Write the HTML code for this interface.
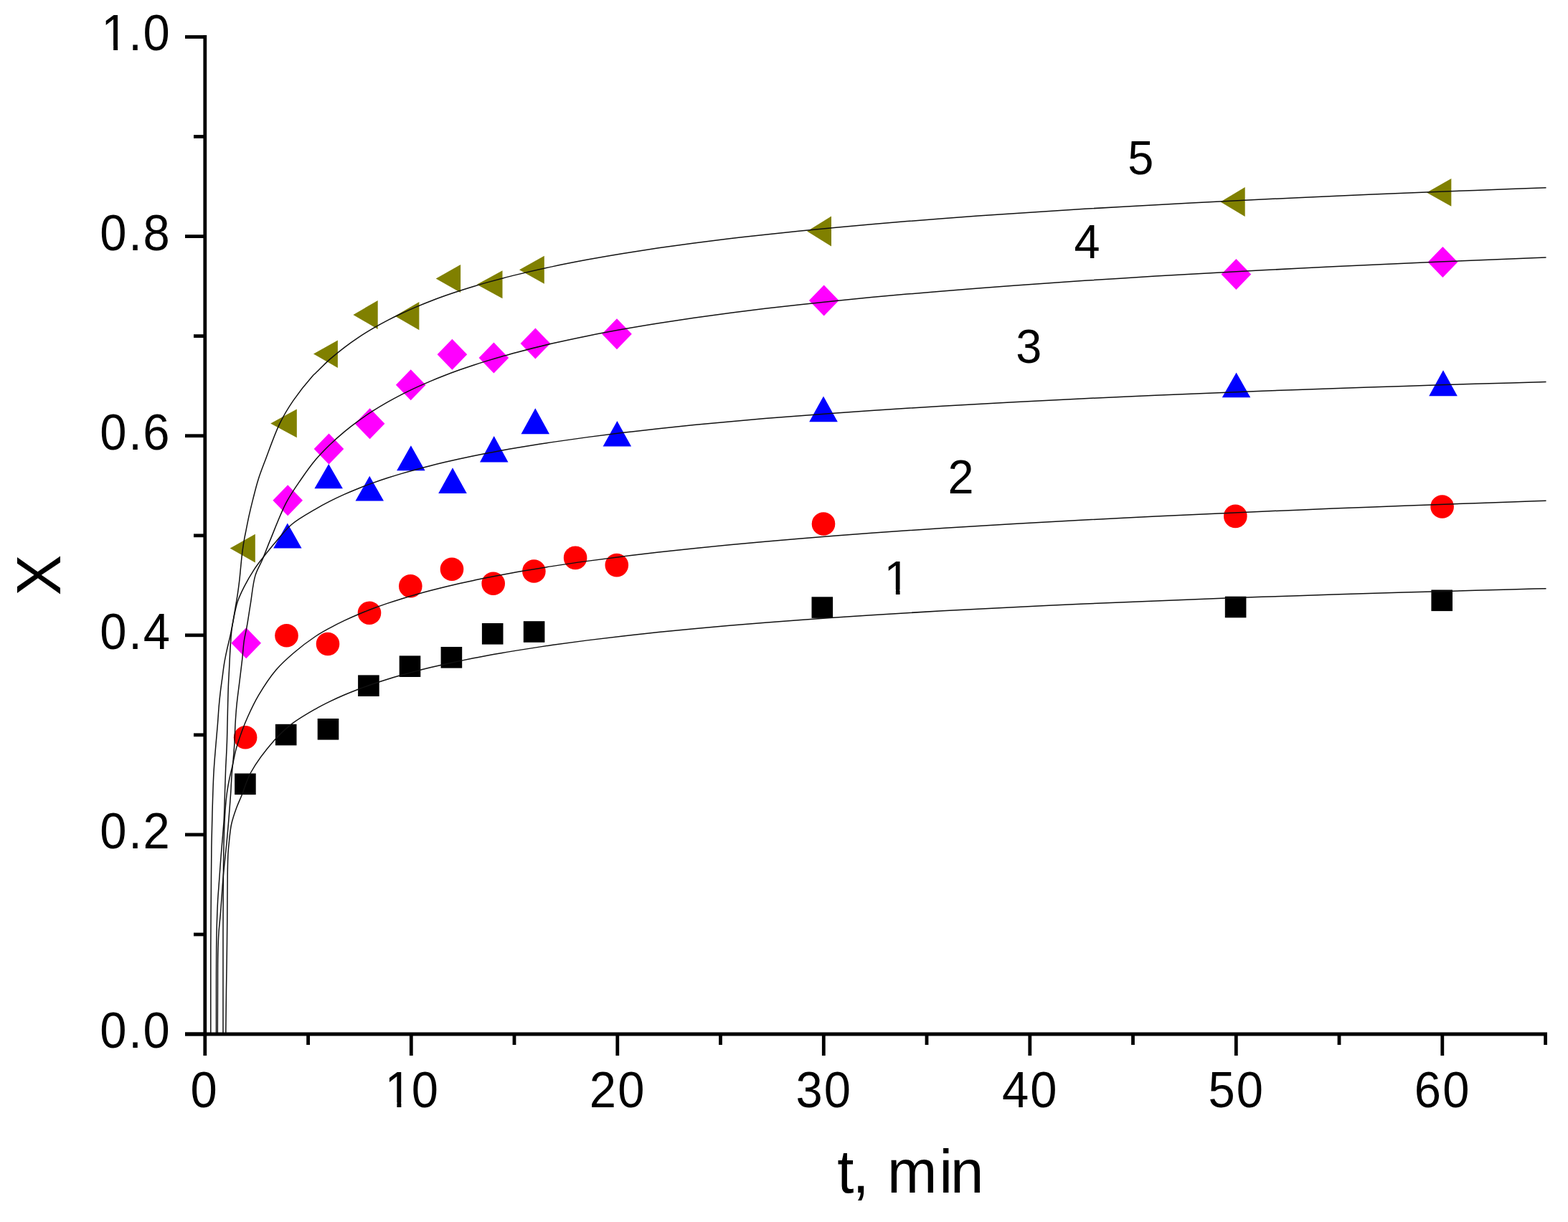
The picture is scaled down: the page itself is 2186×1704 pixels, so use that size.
<!DOCTYPE html>
<html><head><meta charset="utf-8"><title>X vs t</title><style>html,body{margin:0;padding:0;background:#fff;overflow:hidden}svg{display:block}</style></head><body>
<svg width="2186" height="1704" viewBox="0 0 2186 1704">
<rect width="2186" height="1704" fill="#fff"/>
<g fill="#000">
<rect x="327.1" y="1078.5" width="29.6" height="29.6"/>
<rect x="383.9" y="1009.8" width="29.6" height="29.6"/>
<rect x="442.7" y="1002.0" width="29.6" height="29.6"/>
<rect x="499.1" y="941.4" width="29.6" height="29.6"/>
<rect x="556.7" y="914.4" width="29.6" height="29.6"/>
<rect x="614.6" y="902.0" width="29.6" height="29.6"/>
<rect x="671.9" y="869.0" width="29.6" height="29.6"/>
<rect x="729.8" y="866.2" width="29.6" height="29.6"/>
<rect x="1131.5" y="832.3" width="29.6" height="29.6"/>
<rect x="1707.8" y="831.7" width="29.6" height="29.6"/>
<rect x="1995.4" y="822.5" width="29.6" height="29.6"/>
</g>
<g fill="#ff0000">
<circle cx="342.1" cy="1028.3" r="16.3"/>
<circle cx="399.5" cy="886.3" r="16.3"/>
<circle cx="457.0" cy="898.0" r="16.3"/>
<circle cx="515.0" cy="854.8" r="16.3"/>
<circle cx="572.3" cy="817.3" r="16.3"/>
<circle cx="630.0" cy="793.8" r="16.3"/>
<circle cx="687.7" cy="813.8" r="16.3"/>
<circle cx="744.4" cy="796.5" r="16.3"/>
<circle cx="802.1" cy="777.9" r="16.3"/>
<circle cx="859.8" cy="788.1" r="16.3"/>
<circle cx="1148.0" cy="730.5" r="16.3"/>
<circle cx="1722.3" cy="719.9" r="16.3"/>
<circle cx="2010.6" cy="706.5" r="16.3"/>
</g>
<g fill="#0000ff">
<path d="M400.8,729.5 L420.6,764.6 L381.1,764.6 Z"/>
<path d="M458.2,647.0 L477.9,681.3 L438.4,681.3 Z"/>
<path d="M515.2,663.8 L535.0,698.5 L495.5,698.5 Z"/>
<path d="M572.9,621.2 L592.6,656.2 L553.1,656.2 Z"/>
<path d="M631.0,652.3 L650.8,687.9 L611.2,687.9 Z"/>
<path d="M688.7,608.1 L708.5,644.6 L669.0,644.6 Z"/>
<path d="M746.3,569.2 L766.0,605.2 L726.5,605.2 Z"/>
<path d="M860.4,586.9 L880.1,622.5 L840.6,622.5 Z"/>
<path d="M1148.0,552.6 L1167.8,588.3 L1128.2,588.3 Z"/>
<path d="M1723.6,519.5 L1743.3,554.3 L1703.8,554.3 Z"/>
<path d="M2012.0,516.3 L2031.8,552.2 L1992.2,552.2 Z"/>
</g>
<g fill="#ff00ff">
<path d="M343.2,875.3 L364.0,896.8 L343.2,918.3 L322.4,896.8 Z"/>
<path d="M401.2,676.3 L422.0,697.8 L401.2,719.3 L380.4,697.8 Z"/>
<path d="M458.5,604.5 L479.3,626.0 L458.5,647.5 L437.7,626.0 Z"/>
<path d="M515.6,569.3 L536.4,590.8 L515.6,612.3 L494.8,590.8 Z"/>
<path d="M572.7,515.3 L593.5,536.8 L572.7,558.3 L551.9,536.8 Z"/>
<path d="M630.4,472.8 L651.2,494.3 L630.4,515.8 L609.6,494.3 Z"/>
<path d="M688.4,477.5 L709.2,499.0 L688.4,520.5 L667.6,499.0 Z"/>
<path d="M746.4,457.5 L767.2,479.0 L746.4,500.5 L725.6,479.0 Z"/>
<path d="M860.0,444.3 L880.8,465.8 L860.0,487.3 L839.2,465.8 Z"/>
<path d="M1148.7,397.6 L1169.5,419.1 L1148.7,440.6 L1127.9,419.1 Z"/>
<path d="M1723.4,361.1 L1744.2,382.6 L1723.4,404.1 L1702.6,382.6 Z"/>
<path d="M2011.4,343.9 L2032.2,365.4 L2011.4,386.9 L1990.6,365.4 Z"/>
</g>
<g fill="#808000">
<path d="M320.6,764.6 L355.8,744.7 L355.8,784.5 Z"/>
<path d="M377.2,590.5 L413.8,570.6 L413.8,610.3 Z"/>
<path d="M437.0,493.6 L470.9,474.4 L470.9,512.9 Z"/>
<path d="M492.4,438.9 L526.7,419.0 L526.7,458.9 Z"/>
<path d="M550.7,440.7 L584.4,421.1 L584.4,460.3 Z"/>
<path d="M607.7,388.5 L642.1,368.9 L642.1,408.1 Z"/>
<path d="M664.8,396.8 L700.5,377.2 L700.5,416.3 Z"/>
<path d="M724.0,376.2 L758.8,356.8 L758.8,395.7 Z"/>
<path d="M1125.2,322.6 L1159.0,301.6 L1159.0,343.5 Z"/>
<path d="M1701.5,281.5 L1735.7,261.0 L1735.7,302.0 Z"/>
<path d="M1989.0,268.4 L2023.3,249.0 L2023.3,287.8 Z"/>
</g>
<g fill="none" stroke="#111" stroke-width="1.5" stroke-linejoin="round">
<path d="M314.80,1442.00 C315.03,1421.33 315.23,1399.56 315.50,1380.00 C315.74,1362.44 316.08,1346.67 316.30,1330.00 C316.52,1313.33 316.65,1297.43 316.80,1280.00 C316.96,1260.91 316.92,1236.57 317.20,1220.00 C317.40,1208.28 317.50,1198.72 318.00,1190.00 C318.39,1183.23 318.89,1178.36 319.60,1172.00 C320.41,1164.79 321.04,1156.51 322.70,1149.00 C324.35,1141.52 327.00,1133.91 329.50,1127.00 C331.80,1120.64 334.20,1115.87 337.00,1109.00 C340.73,1099.87 343.62,1088.16 349.80,1077.00 C357.67,1062.80 372.02,1044.05 382.70,1032.00 C390.93,1022.71 397.84,1016.39 406.90,1009.40 C416.75,1001.80 430.25,994.13 440.00,988.53 C447.40,984.29 453.29,981.40 460.00,978.13 C466.62,974.91 473.30,971.91 480.00,969.04 C486.64,966.20 493.31,963.54 500.00,960.99 C506.64,958.45 513.32,956.07 520.00,953.78 C526.65,951.49 533.32,949.34 540.00,947.26 C546.65,945.18 553.32,943.22 560.00,941.32 C566.66,939.42 573.32,937.62 580.00,935.87 C586.66,934.13 593.33,932.47 600.00,930.85 C606.66,929.24 613.33,927.70 620.00,926.20 C626.66,924.71 633.33,923.27 640.00,921.88 C646.66,920.48 653.33,919.14 660.00,917.83 C666.66,916.53 673.33,915.27 680.00,914.04 C686.66,912.82 693.33,911.63 700.00,910.48 C706.66,909.32 711.84,908.43 720.00,907.12 C732.82,905.06 752.99,901.93 769.50,899.55 C785.99,897.18 802.49,894.98 819.00,892.88 C835.49,890.78 851.99,888.81 868.50,886.93 C884.99,885.04 901.50,883.28 918.00,881.57 C934.50,879.87 951.00,878.26 967.50,876.72 C984.00,875.17 1000.50,873.70 1017.00,872.28 C1033.50,870.86 1050.00,869.51 1066.50,868.21 C1083.00,866.90 1099.50,865.66 1116.00,864.45 C1132.50,863.24 1149.00,862.08 1165.50,860.96 C1182.00,859.84 1198.50,858.77 1215.00,857.72 C1231.50,856.67 1248.00,855.67 1264.50,854.69 C1281.00,853.71 1297.50,852.77 1314.00,851.85 C1330.50,850.93 1347.00,850.04 1363.50,849.18 C1380.00,848.32 1396.50,847.48 1413.00,846.67 C1429.50,845.85 1446.00,845.06 1462.50,844.29 C1479.00,843.52 1495.50,842.77 1512.00,842.04 C1528.50,841.31 1545.00,840.60 1561.50,839.91 C1578.00,839.22 1594.50,838.54 1611.00,837.89 C1627.50,837.23 1644.00,836.59 1660.50,835.96 C1677.00,835.33 1693.50,834.72 1710.00,834.12 C1726.50,833.52 1743.00,832.94 1759.50,832.36 C1776.00,831.79 1792.50,831.23 1809.00,830.68 C1825.50,830.14 1842.00,829.60 1858.50,829.08 C1875.00,828.55 1891.50,828.04 1908.00,827.54 C1924.50,827.03 1941.00,826.54 1957.50,826.06 C1974.00,825.57 1990.50,825.10 2007.00,824.64 C2023.50,824.17 2040.00,823.72 2056.50,823.27 C2073.00,822.82 2089.50,822.38 2106.00,821.95 C2122.50,821.52 2139.00,821.11 2155.50,820.69"/>
<path d="M311.00,1442.00 C311.00,1394.67 310.93,1335.25 311.00,1300.00 C311.04,1279.08 311.10,1266.67 311.20,1250.00 C311.30,1233.33 311.36,1215.74 311.60,1200.00 C311.81,1185.92 312.05,1172.37 312.50,1160.00 C312.89,1149.28 313.29,1139.54 314.00,1130.00 C314.65,1121.28 315.42,1112.85 316.50,1105.00 C317.47,1097.94 318.65,1091.58 320.00,1085.00 C321.33,1078.52 323.03,1072.33 324.50,1065.80 C326.03,1059.01 327.02,1052.28 329.00,1045.00 C331.25,1036.71 334.69,1026.77 337.60,1018.80 C340.10,1011.97 342.05,1006.96 345.20,1000.00 C349.31,990.92 354.54,979.59 360.70,969.20 C367.56,957.62 376.29,944.24 385.00,934.00 C392.84,924.79 401.05,917.65 410.00,910.00 C419.33,902.03 430.84,893.37 440.00,887.25 C447.18,882.45 453.28,879.21 460.00,875.55 C466.61,871.94 473.29,868.60 480.00,865.41 C486.63,862.26 493.30,859.32 500.00,856.49 C506.64,853.70 513.31,851.07 520.00,848.55 C526.64,846.05 533.32,843.68 540.00,841.41 C546.65,839.14 553.32,837.00 560.00,834.92 C566.65,832.86 573.32,830.90 580.00,829.00 C586.66,827.10 593.32,825.29 600.00,823.54 C606.66,821.80 613.33,820.12 620.00,818.50 C626.66,816.88 633.33,815.32 640.00,813.81 C646.66,812.30 653.33,810.84 660.00,809.43 C666.66,808.02 673.33,806.65 680.00,805.33 C686.66,804.00 693.33,802.72 700.00,801.47 C706.66,800.22 711.84,799.25 720.00,797.83 C732.82,795.60 752.99,792.20 769.50,789.63 C785.99,787.05 802.49,784.66 819.00,782.37 C835.49,780.08 851.99,777.94 868.50,775.88 C884.99,773.82 901.50,771.88 918.00,770.01 C934.50,768.14 951.00,766.37 967.50,764.65 C984.00,762.94 1000.50,761.31 1017.00,759.74 C1033.50,758.16 1050.00,756.65 1066.50,755.19 C1083.00,753.73 1099.50,752.33 1116.00,750.97 C1132.50,749.61 1149.00,748.30 1165.50,747.03 C1182.00,745.76 1198.50,744.53 1215.00,743.34 C1231.50,742.14 1248.00,740.99 1264.50,739.86 C1281.00,738.74 1297.50,737.65 1314.00,736.58 C1330.50,735.52 1347.00,734.48 1363.50,733.47 C1380.00,732.47 1396.50,731.48 1413.00,730.52 C1429.50,729.57 1446.00,728.63 1462.50,727.72 C1479.00,726.80 1495.50,725.91 1512.00,725.04 C1528.50,724.16 1545.00,723.31 1561.50,722.48 C1578.00,721.64 1594.50,720.82 1611.00,720.02 C1627.50,719.22 1644.00,718.44 1660.50,717.67 C1677.00,716.90 1693.50,716.15 1710.00,715.40 C1726.50,714.66 1743.00,713.94 1759.50,713.23 C1776.00,712.51 1792.50,711.81 1809.00,711.13 C1825.50,710.44 1842.00,709.76 1858.50,709.10 C1875.00,708.44 1891.50,707.78 1908.00,707.14 C1924.50,706.50 1941.00,705.87 1957.50,705.25 C1974.00,704.62 1990.50,704.01 2007.00,703.41 C2023.50,702.81 2040.00,702.21 2056.50,701.63 C2073.00,701.04 2089.50,700.47 2106.00,699.90 C2122.50,699.33 2139.00,698.78 2155.50,698.22"/>
<path d="M293.80,1442.00 C293.80,1401.33 293.67,1355.05 293.80,1320.00 C293.89,1293.45 294.12,1273.33 294.30,1250.00 C294.48,1226.67 294.54,1201.82 294.90,1180.00 C295.21,1160.83 295.67,1143.56 296.20,1126.00 C296.71,1109.27 297.15,1092.18 298.00,1077.00 C298.74,1063.79 299.85,1051.68 300.80,1040.00 C301.65,1029.47 302.63,1019.64 303.40,1010.00 C304.12,1001.03 304.59,992.03 305.30,984.00 C305.91,977.06 306.53,971.06 307.30,964.60 C308.07,958.13 309.03,951.67 309.90,945.20 C310.77,938.73 311.44,932.25 312.50,925.80 C313.57,919.32 314.90,912.85 316.30,906.40 C317.70,899.92 319.50,893.48 320.90,887.00 C322.30,880.55 323.20,874.67 324.70,867.60 C326.52,859.00 328.35,847.72 331.20,839.10 C333.71,831.52 336.70,825.49 340.30,818.40 C344.33,810.47 349.98,800.81 354.50,793.90 C358.03,788.50 360.64,785.25 364.70,780.00 C370.24,772.82 377.97,763.15 385.00,755.00 C392.07,746.81 398.38,738.25 407.00,731.00 C416.46,723.04 430.28,715.58 440.00,709.82 C447.41,705.42 453.29,702.33 460.00,698.91 C466.62,695.53 473.30,692.39 480.00,689.38 C486.63,686.40 493.31,683.62 500.00,680.94 C506.64,678.29 513.31,675.79 520.00,673.39 C526.65,671.00 533.32,668.75 540.00,666.57 C546.65,664.40 553.32,662.34 560.00,660.36 C566.65,658.37 573.32,656.49 580.00,654.66 C586.66,652.84 593.33,651.10 600.00,649.41 C606.66,647.72 613.33,646.11 620.00,644.54 C626.66,642.98 633.33,641.47 640.00,640.01 C646.66,638.55 653.33,637.15 660.00,635.78 C666.66,634.41 673.33,633.10 680.00,631.81 C686.66,630.53 693.33,629.29 700.00,628.08 C706.66,626.87 711.84,625.93 720.00,624.56 C732.82,622.40 752.99,619.11 769.50,616.62 C785.99,614.14 802.49,611.83 819.00,609.62 C835.49,607.41 851.99,605.35 868.50,603.36 C884.99,601.38 901.50,599.52 918.00,597.73 C934.50,595.93 951.00,594.24 967.50,592.61 C984.00,590.97 1000.50,589.42 1017.00,587.92 C1033.50,586.43 1050.00,585.00 1066.50,583.62 C1083.00,582.24 1099.50,580.92 1116.00,579.64 C1132.50,578.36 1149.00,577.13 1165.50,575.94 C1182.00,574.75 1198.50,573.60 1215.00,572.49 C1231.50,571.38 1248.00,570.31 1264.50,569.27 C1281.00,568.22 1297.50,567.22 1314.00,566.24 C1330.50,565.26 1347.00,564.31 1363.50,563.39 C1380.00,562.46 1396.50,561.57 1413.00,560.70 C1429.50,559.82 1446.00,558.98 1462.50,558.15 C1479.00,557.32 1495.50,556.52 1512.00,555.74 C1528.50,554.95 1545.00,554.19 1561.50,553.44 C1578.00,552.70 1594.50,551.97 1611.00,551.26 C1627.50,550.55 1644.00,549.85 1660.50,549.18 C1677.00,548.50 1693.50,547.83 1710.00,547.19 C1726.50,546.54 1743.00,545.90 1759.50,545.28 C1776.00,544.66 1792.50,544.06 1809.00,543.46 C1825.50,542.86 1842.00,542.28 1858.50,541.71 C1875.00,541.14 1891.50,540.58 1908.00,540.03 C1924.50,539.48 1941.00,538.94 1957.50,538.42 C1974.00,537.89 1990.50,537.37 2007.00,536.86 C2023.50,536.35 2040.00,535.85 2056.50,535.36 C2073.00,534.87 2089.50,534.39 2106.00,533.92 C2122.50,533.45 2139.00,532.99 2155.50,532.52"/>
<path d="M303.30,1442.00 C303.37,1421.33 303.41,1399.56 303.50,1380.00 C303.58,1362.44 303.47,1344.55 303.80,1330.00 C304.06,1318.73 304.37,1309.54 305.00,1300.00 C305.58,1291.28 306.59,1283.50 307.30,1275.00 C308.03,1266.18 308.62,1257.08 309.30,1248.00 C309.99,1238.75 310.54,1229.64 311.40,1220.00 C312.32,1209.68 313.71,1197.79 314.70,1188.00 C315.54,1179.70 316.25,1173.18 317.00,1165.00 C317.86,1155.67 318.71,1144.95 319.50,1135.00 C320.28,1125.15 321.10,1114.86 321.70,1105.60 C322.24,1097.30 322.41,1089.84 323.00,1082.00 C323.58,1074.20 324.54,1066.50 325.20,1058.70 C325.87,1050.84 326.54,1043.01 327.00,1035.00 C327.48,1026.78 327.52,1018.41 328.00,1010.00 C328.49,1001.41 329.02,993.13 329.90,984.00 C330.89,973.78 332.50,962.39 333.80,951.60 C335.10,940.82 336.57,929.47 337.70,919.30 C338.71,910.22 339.12,901.46 340.30,893.50 C341.33,886.55 342.80,881.40 344.10,874.10 C345.78,864.69 347.45,852.98 349.30,841.70 C351.33,829.35 352.47,813.96 355.80,802.90 C358.46,794.07 362.66,787.92 366.00,780.00 C369.53,771.62 372.18,764.11 376.40,753.90 C382.47,739.20 391.19,715.73 399.30,700.40 C405.89,687.94 412.98,678.19 420.00,668.00 C426.56,658.48 433.08,649.30 440.00,641.06 C446.44,633.39 453.20,626.60 460.00,619.99 C466.54,613.64 473.23,607.71 480.00,602.07 C486.57,596.59 493.26,591.47 500.00,586.57 C506.59,581.78 513.27,577.29 520.00,572.98 C526.61,568.75 533.29,564.76 540.00,560.94 C546.62,557.16 553.30,553.59 560.00,550.15 C566.63,546.76 573.30,543.53 580.00,540.43 C586.64,537.35 593.31,534.42 600.00,531.59 C606.64,528.78 613.31,526.10 620.00,523.51 C626.65,520.93 633.32,518.47 640.00,516.08 C646.65,513.71 653.32,511.43 660.00,509.22 C666.65,507.02 673.32,504.91 680.00,502.86 C686.66,500.81 693.32,498.85 700.00,496.93 C706.66,495.03 711.83,493.54 720.00,491.40 C732.81,488.03 752.97,482.93 769.50,479.10 C785.97,475.29 802.48,471.79 819.00,468.45 C835.48,465.12 851.98,462.04 868.50,459.09 C884.99,456.14 901.49,453.40 918.00,450.77 C934.49,448.13 950.99,445.67 967.50,443.29 C983.99,440.92 1000.49,438.68 1017.00,436.53 C1033.49,434.37 1050.00,432.33 1066.50,430.36 C1083.00,428.39 1099.50,426.51 1116.00,424.70 C1132.50,422.88 1149.00,421.15 1165.50,419.47 C1182.00,417.79 1198.50,416.19 1215.00,414.62 C1231.50,413.06 1248.00,411.57 1264.50,410.11 C1281.00,408.65 1297.50,407.25 1314.00,405.88 C1330.50,404.52 1347.00,403.20 1363.50,401.92 C1380.00,400.63 1396.50,399.39 1413.00,398.18 C1429.50,396.97 1446.00,395.80 1462.50,394.65 C1479.00,393.51 1495.50,392.40 1512.00,391.31 C1528.50,390.22 1545.00,389.17 1561.50,388.13 C1578.00,387.10 1594.50,386.09 1611.00,385.11 C1627.50,384.12 1644.00,383.16 1660.50,382.22 C1677.00,381.28 1693.50,380.36 1710.00,379.46 C1726.50,378.56 1743.00,377.69 1759.50,376.82 C1776.00,375.96 1792.50,375.12 1809.00,374.29 C1825.50,373.46 1842.00,372.65 1858.50,371.85 C1875.00,371.06 1891.50,370.28 1908.00,369.51 C1924.50,368.74 1941.00,367.99 1957.50,367.25 C1974.00,366.51 1990.50,365.78 2007.00,365.07 C2023.50,364.35 2040.00,363.65 2056.50,362.96 C2073.00,362.27 2089.50,361.59 2106.00,360.92 C2122.50,360.25 2139.00,359.61 2155.50,358.95"/>
<path d="M301.50,1442.00 C301.50,1421.33 301.47,1400.50 301.50,1380.00 C301.53,1359.84 301.51,1336.57 301.70,1320.00 C301.84,1308.28 302.00,1300.31 302.30,1290.00 C302.62,1279.02 303.01,1266.78 303.60,1256.00 C304.14,1246.21 304.90,1237.72 305.60,1228.00 C306.36,1217.45 307.15,1205.83 308.00,1195.00 C308.82,1184.50 309.85,1173.57 310.60,1164.00 C311.25,1155.76 311.84,1149.53 312.30,1141.00 C312.87,1130.34 313.10,1116.92 313.50,1105.00 C313.90,1093.25 314.33,1078.45 314.70,1070.00 C314.91,1065.19 315.08,1063.16 315.30,1058.70 C315.62,1052.25 316.12,1043.01 316.40,1035.00 C316.69,1026.78 316.76,1019.84 317.00,1010.00 C317.35,995.82 317.76,972.42 318.30,958.10 C318.68,947.98 319.17,940.82 319.60,932.20 C320.03,923.59 320.37,915.01 320.90,906.40 C321.43,897.77 322.01,887.63 322.80,880.50 C323.36,875.45 323.95,872.33 324.70,867.60 C325.62,861.79 326.92,854.67 328.00,848.20 C329.08,841.73 330.23,835.27 331.20,828.80 C332.17,822.34 333.05,815.87 333.80,809.40 C334.55,802.94 335.06,796.38 335.70,790.00 C336.33,783.78 336.82,777.76 337.60,771.60 C338.39,765.36 339.39,758.61 340.40,752.80 C341.28,747.75 342.19,743.74 343.20,738.70 C344.37,732.88 345.55,726.50 347.00,719.90 C348.63,712.49 350.53,704.57 352.60,696.40 C354.88,687.41 357.24,677.54 360.20,668.20 C363.20,658.73 366.44,650.69 370.50,640.00 C375.92,625.75 383.04,604.85 390.10,590.40 C395.97,578.40 401.64,569.19 408.80,558.70 C416.52,547.38 429.82,531.08 435.20,525.00 C437.34,522.58 437.84,522.31 440.00,520.18 C444.37,515.89 453.21,506.96 460.00,500.92 C466.55,495.10 473.24,489.68 480.00,484.53 C486.58,479.51 493.26,474.82 500.00,470.34 C506.60,465.96 513.28,461.84 520.00,457.90 C526.62,454.03 533.29,450.38 540.00,446.87 C546.63,443.41 553.30,440.14 560.00,437.00 C566.64,433.88 573.31,430.93 580.00,428.09 C586.64,425.26 593.31,422.58 600.00,419.99 C606.65,417.41 613.32,414.96 620.00,412.58 C626.65,410.22 633.32,407.96 640.00,405.78 C646.65,403.60 653.32,401.51 660.00,399.49 C666.66,397.47 673.32,395.53 680.00,393.65 C686.66,391.78 693.33,389.97 700.00,388.22 C706.66,386.47 711.83,385.11 720.00,383.14 C732.81,380.05 752.97,375.38 769.50,371.86 C785.97,368.36 802.48,365.15 819.00,362.09 C835.48,359.03 851.99,356.21 868.50,353.50 C884.99,350.80 901.49,348.28 918.00,345.86 C934.49,343.45 950.99,341.18 967.50,339.01 C983.99,336.83 1000.49,334.78 1017.00,332.80 C1033.49,330.82 1050.00,328.95 1066.50,327.14 C1083.00,325.33 1099.50,323.61 1116.00,321.94 C1132.50,320.28 1149.00,318.69 1165.50,317.15 C1182.00,315.61 1198.50,314.14 1215.00,312.70 C1231.50,311.27 1248.00,309.90 1264.50,308.56 C1281.00,307.23 1297.50,305.94 1314.00,304.69 C1330.50,303.44 1347.00,302.23 1363.50,301.05 C1380.00,299.87 1396.50,298.74 1413.00,297.63 C1429.50,296.52 1446.00,295.44 1462.50,294.39 C1479.00,293.34 1495.50,292.32 1512.00,291.33 C1528.50,290.33 1545.00,289.36 1561.50,288.42 C1578.00,287.47 1594.50,286.55 1611.00,285.65 C1627.50,284.74 1644.00,283.86 1660.50,283.00 C1677.00,282.14 1693.50,281.30 1710.00,280.48 C1726.50,279.65 1743.00,278.85 1759.50,278.06 C1776.00,277.27 1792.50,276.50 1809.00,275.74 C1825.50,274.98 1842.00,274.24 1858.50,273.51 C1875.00,272.78 1891.50,272.07 1908.00,271.37 C1924.50,270.66 1941.00,269.98 1957.50,269.30 C1974.00,268.62 1990.50,267.96 2007.00,267.31 C2023.50,266.65 2040.00,266.01 2056.50,265.38 C2073.00,264.75 2089.50,264.13 2106.00,263.52 C2122.50,262.91 2139.00,262.31 2155.50,261.71"/>
</g>
<g stroke="#000" stroke-width="4.8" fill="none" stroke-linecap="butt">
<path d="M285.8,49.1 V1444.4"/>
<path d="M258,1442.0 H2157.0"/>
<path d="M285.8,1442.0 V1472"/>
<path d="M573.3,1442.0 V1472"/>
<path d="M860.8,1442.0 V1472"/>
<path d="M1148.3,1442.0 V1472"/>
<path d="M1435.8,1442.0 V1472"/>
<path d="M1723.3,1442.0 V1472"/>
<path d="M2010.8,1442.0 V1472"/>
<path d="M429.6,1442.0 V1457"/>
<path d="M717.0,1442.0 V1457"/>
<path d="M1004.5,1442.0 V1457"/>
<path d="M1292.0,1442.0 V1457"/>
<path d="M1579.5,1442.0 V1457"/>
<path d="M1867.0,1442.0 V1457"/>
<path d="M2154.6,1442.0 V1457"/>
<path d="M258,1442.0 H285.8"/>
<path d="M258,1163.9 H285.8"/>
<path d="M258,885.8 H285.8"/>
<path d="M258,607.7 H285.8"/>
<path d="M258,329.6 H285.8"/>
<path d="M258,51.5 H285.8"/>
<path d="M270,1303.0 H285.8"/>
<path d="M270,1024.8 H285.8"/>
<path d="M270,746.8 H285.8"/>
<path d="M270,468.6 H285.8"/>
<path d="M270,190.5 H285.8"/>
</g>
<g font-family="Liberation Sans, Arial, sans-serif" fill="#000">
<text transform="translate(0,1460.90) scale(0.9565,1)" x="145.46 187.45 208.66" y="0" font-size="70">0.0</text>
<text transform="translate(0,1182.80) scale(0.9565,1)" x="145.46 187.45 208.66" y="0" font-size="70">0.2</text>
<text transform="translate(0,904.70) scale(0.9565,1)" x="145.46 187.45 208.88" y="0" font-size="70">0.4</text>
<text transform="translate(0,626.60) scale(0.9565,1)" x="145.46 187.45 208.42" y="0" font-size="70">0.6</text>
<text transform="translate(0,348.50) scale(0.9565,1)" x="145.46 187.45 208.68" y="0" font-size="70">0.8</text>
<text transform="translate(0,70.40) scale(0.9565,1)" x="147.77 187.45 208.66" y="0" font-size="70">1.0</text>
<text transform="translate(0,1544.00) scale(0.9565,1)" x="277.50" y="0" font-size="70">0</text>
<text transform="translate(0,1544.00) scale(0.9565,1)" x="560.99 599.77" y="0" font-size="70">10</text>
<text transform="translate(0,1544.00) scale(0.9565,1)" x="859.26 900.35" y="0" font-size="70">20</text>
<text transform="translate(0,1544.00) scale(0.9565,1)" x="1160.04 1200.92" y="0" font-size="70">30</text>
<text transform="translate(0,1544.00) scale(0.9565,1)" x="1460.63 1501.50" y="0" font-size="70">40</text>
<text transform="translate(0,1544.00) scale(0.9565,1)" x="1761.05 1802.07" y="0" font-size="70">50</text>
<text transform="translate(0,1544.00) scale(0.9565,1)" x="2061.32 2102.65" y="0" font-size="70">60</text>
<text transform="translate(0,688.10) scale(0.96,1)" x="1376.44" y="0" font-size="67.5">2</text>
<text transform="translate(0,505.70) scale(0.96,1)" x="1475.28" y="0" font-size="67.5">3</text>
<text transform="translate(0,359.70) scale(0.96,1)" x="1559.99" y="0" font-size="67.5">4</text>
<text transform="translate(0,243.00) scale(0.96,1)" x="1637.81" y="0" font-size="67.5">5</text>
<text transform="translate(0,828.50) scale(0.96,1)" x="1283.92" y="0" font-size="67.5">1</text>
</g>
<g fill="#fff">
<rect x="144.74" y="63.67" width="13.43" height="7.93"/>
<rect x="164.10" y="63.67" width="12.91" height="7.93"/>
<rect x="539.99" y="1537.27" width="13.43" height="7.93"/>
<rect x="559.35" y="1537.27" width="12.91" height="7.93"/>
<rect x="1235.81" y="821.96" width="13.05" height="7.74"/>
<rect x="1254.58" y="821.96" width="12.54" height="7.74"/>
</g>
<text font-family="Liberation Sans, Arial, sans-serif" font-size="88" transform="translate(83.6,802.1) rotate(-90) scale(0.97,1)" x="0" y="0" text-anchor="middle" fill="#000">X</text>
<text font-family="Liberation Sans, Arial, sans-serif" font-size="86" transform="translate(0,1662.9) scale(0.97,1)" x="1203.40 1225.26 1249.18 1275.15 1349.90 1365.98" y="0" fill="#000">t, min</text>
</svg>
</body></html>
